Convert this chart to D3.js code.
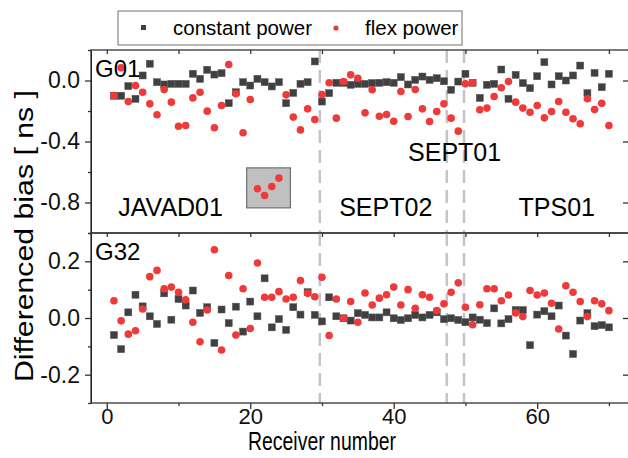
<!DOCTYPE html>
<html>
<head>
<meta charset="utf-8">
<script src="https://cdn.jsdelivr.net/npm/d3@7"></script>
<style>
  body { margin: 0; background: #fff; }
  text { font-family: "Liberation Sans", Arial, sans-serif; }
</style>
</head>
<body>
<div id="chart"></div>
<script>
// receivers 1..70
const receivers = [1,2,3,4,5,6,7,8,9,10,11,12,13,14,15,16,17,18,19,20,
  21,22,23,24,25,26,27,28,29,30,31,32,33,34,35,36,37,38,39,40,
  41,42,43,44,45,46,47,48,49,50,51,52,53,54,55,56,57,58,59,60,
  61,62,63,64,65,66,67,68,69,70]

const g01Const = [-0.10,-0.10,-0.037,-0.12,0.033,0.11,-0.011,-0.026,-0.022,-0.022,
  -0.022,0.044,0.011,0.07,0.039,0.048,-0.149,-0.077,-0.011,-0.033,
  0.011,-0.011,-0.039,-0.011,-0.149,-0.081,-0.022,-0.011,0.125,-0.138,
  -0.083,-0.015,-0.015,-0.028,-0.022,-0.022,-0.017,-0.015,-0.011,-0.015,
  0.022,-0.026,0.004,0.026,0.004,0.015,-0.005,-0.061,-0.007,0.044,
  -0.015,-0.114,-0.028,-0.022,0.072,-0.12,0.037,-0.017,-0.05,0.028,
  0.12,-0.026,0.028,0.0,0.033,0.098,-0.083,0.05,-0.044,0.044]

const g01Flex = [-0.098,0.083,-0.138,-0.033,-0.077,-0.153,-0.225,-0.059,-0.142,-0.30,
  -0.295,-0.114,-0.077,-0.201,-0.31,-0.164,0.105,-0.087,-0.343,-0.125,
  -0.71,-0.754,-0.695,-0.64,-0.094,-0.24,-0.324,-0.186,-0.256,-0.092,
  -0.015,-0.247,-0.007,0.037,0.015,-0.212,-0.061,-0.234,-0.223,-0.267,
  -0.072,-0.236,-0.059,-0.186,-0.269,-0.203,-0.153,-0.247,-0.332,-0.022,
  -0.015,-0.192,-0.181,-0.105,-0.048,-0.007,-0.142,-0.181,-0.208,-0.164,
  -0.245,-0.203,-0.138,-0.208,-0.251,-0.284,-0.12,-0.19,-0.149,-0.295]

const g32Const = [-0.06,-0.11,0.02,0.082,0.041,0.006,-0.021,0.087,-0.006,0.067,
  0.044,0.097,0.018,0.038,-0.088,0.03,-0.018,0.04,-0.048,0.058,
  0.006,0.14,-0.033,-0.004,-0.042,0.038,0.012,0.091,0.011,-0.012,
  0.073,0.006,-0.001,-0.009,0.017,0.011,0.002,0.002,0.02,-0.001,
  -0.007,-0.001,0.011,0.002,0.011,0.02,-0.004,-0.001,-0.007,-0.015,
  0.002,-0.006,-0.018,0.034,-0.019,-0.004,0.028,0.028,-0.096,0.012,
  0.024,0.006,0.044,-0.062,-0.127,-0.009,0.017,-0.029,-0.025,-0.033]

const g32Flex = [0.061,-0.01,-0.057,-0.045,0.032,0.146,0.168,0.103,0.109,0.091,
  0.064,-0.015,-0.084,0.028,0.241,-0.113,0.15,-0.06,0.103,-0.037,
  0.194,0.073,0.073,0.093,0.067,0.073,0.132,0.087,0.075,0.144,
  -0.062,0.067,-0.001,0.058,-0.015,0.088,0.046,0.07,0.082,0.109,
  0.046,0.1,0.034,0.082,0.073,0.026,0.05,0.091,0.124,0.038,
  -0.024,0.047,0.103,0.103,0.061,0.081,0.018,0.005,0.097,0.081,
  0.088,0.052,-0.039,0.114,0.091,0.058,0.005,0.061,0.05,0.026]

// receiver group boundaries
const boundaries = [29.7, 47.4, 49.8]
const groupLabels = [
  {name:'JAVAD01', x:1.6, y:-0.89},
  {name:'SEPT02', x:32.4, y:-0.89},
  {name:'TPS01', x:57.4, y:-0.89},
  {name:'SEPT01', x:42.0, y:-0.525}
]
// zoom-highlight box (receiver range, bias range)
const boxX = [19.5, 25.6]
const boxY = [-0.835, -0.573]

const xTicksMajor = [0, 20, 40, 60]
const xTicksMinor = [10, 30, 50, 70]
const topTicks = [0.0, -0.4, -0.8]
const topMinor = [0.2, -0.2, -0.6, -1.0]
const botTicks = [0.2, 0.0, -0.2]
const botMinor = [0.3, 0.1, -0.1, -0.3]

const width = 628
const height = 458
const left = 91, right = 629
const topY = [50, 233]
const botY = [233, 403]
const sqColor = '#404040'
const dotColor = '#f03a3a'

const svg = d3.select('#chart')
  .append('svg')
  .attr('width', width)
  .attr('height', height)

const x = d3.scaleLinear().domain([-2.2, 72.8]).range([left, right])
const yTop = d3.scaleLinear().domain([-1.0, 0.2]).range([topY[1], topY[0]])
const yBot = d3.scaleLinear().domain([-0.3, 0.3]).range([botY[1], botY[0]])

function panel(y, range, major, minor, cons, flex, name, fmt){
  const g = svg.append('g')

  // dashed boundary lines
  g.selectAll('.bound')
    .data(boundaries)
    .join('line')
    .attr('x1', d=>x(d)).attr('x2', d=>x(d))
    .attr('y1', range[0]).attr('y2', range[1])
    .attr('stroke', '#c4c4c4')
    .attr('stroke-width', 2.5)
    .attr('stroke-dasharray', '13,7')

  // squares
  g.selectAll('.sq')
    .data(receivers)
    .join('rect')
    .attr('x', (d,i)=>x(d)-3.5)
    .attr('y', (d,i)=>y(cons[i])-3.5)
    .attr('width', 7).attr('height', 7)
    .attr('fill', sqColor)
    .attr('stroke', '#555').attr('stroke-width', 0.5)

  // dots
  g.selectAll('.dot')
    .data(receivers)
    .join('circle')
    .attr('cx', d=>x(d))
    .attr('cy', (d,i)=>y(flex[i]))
    .attr('r', 3.8)
    .attr('fill', dotColor)

  // left axis
  g.append('g')
    .attr('transform', `translate(${left},0)`)
    .call(d3.axisLeft(y).tickValues(major).tickSize(6).tickSizeOuter(0).tickFormat(fmt))
    .call(a=>a.selectAll('text').attr('font-size', 23).attr('fill', '#111').attr('dx', -2))
  g.append('g')
    .attr('transform', `translate(${left},0)`)
    .call(d3.axisLeft(y).tickValues(minor).tickSize(3).tickSizeOuter(0).tickFormat(''))
    .call(a=>a.select('.domain').remove())

  // right axis (inward ticks)
  g.append('g')
    .attr('transform', `translate(${right-1},0)`)
    .call(d3.axisLeft(y).tickValues(major).tickSize(5).tickSizeOuter(0).tickFormat(''))
    .call(a=>a.select('.domain').remove())

  // top inward ticks
  g.append('g')
    .attr('transform', `translate(0,${range[0]})`)
    .call(d3.axisBottom(x).tickValues(xTicksMajor.concat(xTicksMinor)).tickSize(4).tickSizeOuter(0).tickFormat(''))
    .call(a=>a.select('.domain').remove())

  // frame
  g.append('rect')
    .attr('x', left).attr('y', range[0])
    .attr('width', right-left).attr('height', range[1]-range[0])
    .attr('fill', 'none')
    .attr('stroke', '#333')
    .attr('stroke-width', 1.3)

  g.append('text')
    .attr('x', left+4)
    .attr('y', range[0]+27)
    .attr('font-size', 24)
    .text(name)
  return g
}

const fmt1 = d3.format('.1f')
const signed = d=>fmt1(d).replace('−', '-')
const gTop = panel(yTop, topY, topTicks, topMinor, g01Const, g01Flex, 'G01', signed)
const gBot = panel(yBot, botY, botTicks, botMinor, g32Const, g32Flex, 'G32', signed)

// bottom x axis
svg.append('g')
  .attr('transform', `translate(0,${botY[1]})`)
  .call(d3.axisBottom(x).tickValues(xTicksMajor).tickSize(6).tickSizeOuter(0))
  .call(a=>a.select('.domain').remove())
  .call(a=>a.selectAll('text').attr('font-size', 22).attr('fill', '#111').attr('y', 5))
svg.append('g')
  .attr('transform', `translate(0,${botY[1]})`)
  .call(d3.axisBottom(x).tickValues(xTicksMinor).tickSize(3).tickSizeOuter(0).tickFormat(''))
  .call(a=>a.select('.domain').remove())

svg.selectAll('.tick line').attr('stroke', '#333').attr('stroke-width', 1.3)

// group labels
gTop.selectAll('.grp')
  .data(groupLabels)
  .join('text')
  .attr('x', d=>x(d.x))
  .attr('y', d=>yTop(d.y))
  .attr('font-size', 25)
  .text(d=>d.name)

// highlight box with the outlier points on top
gTop.insert('rect', 'circle')
  .attr('x', x(boxX[0]))
  .attr('y', yTop(boxY[1]))
  .attr('width', x(boxX[1])-x(boxX[0]))
  .attr('height', yTop(boxY[0])-yTop(boxY[1]))
  .attr('fill', '#c0c0c0')
  .attr('stroke', '#707070')
  .attr('stroke-width', 1.2)

// axis titles
svg.append('text')
  .attr('x', 322)
  .attr('y', 450)
  .attr('text-anchor', 'middle')
  .attr('font-size', 25)
  .attr('textLength', 148)
  .attr('lengthAdjust', 'spacingAndGlyphs')
  .text('Receiver number')

svg.append('text')
  .attr('transform', 'translate(33,236) rotate(-90)')
  .attr('text-anchor', 'middle')
  .attr('font-size', 25)
  .attr('textLength', 292)
  .attr('lengthAdjust', 'spacingAndGlyphs')
  .text('Differenced bias [ ns ]')

// legend
const legend = svg.append('g')
legend.append('rect')
  .attr('x', 118).attr('y', 11)
  .attr('width', 344).attr('height', 34)
  .attr('fill', '#fff')
  .attr('stroke', '#888')
  .attr('stroke-width', 1.2)
legend.append('rect')
  .attr('x', 141).attr('y', 25)
  .attr('width', 5).attr('height', 5)
  .attr('fill', sqColor)
legend.append('text')
  .attr('x', 173).attr('y', 35)
  .attr('font-size', 20.5)
  .text('constant power')
legend.append('circle')
  .attr('cx', 336).attr('cy', 28)
  .attr('r', 2.6)
  .attr('fill', dotColor)
legend.append('text')
  .attr('x', 365).attr('y', 35)
  .attr('font-size', 20.5)
  .text('flex power')
</script>
</body>
</html>
